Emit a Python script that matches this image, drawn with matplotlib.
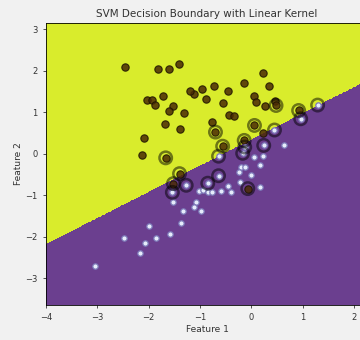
import numpy as np
import matplotlib.pyplot as plt
from matplotlib.colors import ListedColormap

# class 0 points (upper region)
x0 = [-2.47, -1.81, -1.60, -1.42, 0.22, 0.34, -0.14, -0.45, -0.72, -0.96,
      -1.11, -1.19, -0.88, -0.56, 0.06, 0.08, 0.27, 0.46, 0.48, 0.92,
      -2.03, -1.93, -1.87, -1.73, -1.53, -1.60, -1.32, -0.43, -0.33, -1.68,
      -1.40, -0.77, -0.70, 0.06, 0.22, -2.10, -2.13, -1.67, -0.56, -0.14,
      -1.40, -1.52, -0.07]
y0 = [2.09, 2.03, 2.03, 2.16, 1.94, 1.62, 1.69, 1.51, 1.63, 1.56,
      1.43, 1.52, 1.31, 1.22, 1.40, 1.24, 1.14, 1.27, 1.16, 1.04,
      1.30, 1.30, 1.16, 1.38, 1.14, 1.03, 0.98, 0.92, 0.90, 0.72,
      0.60, 0.76, 0.52, 0.68, 0.50, 0.38, -0.02, -0.10, 0.18, 0.32,
      -0.48, -0.72, -0.84]

# class 1 points (lower region)
x1 = [1.29, 0.96, 0.45, -0.64, -0.13, 0.24, 0.63, -0.17, 0.06, 0.22,
      0.16, -0.20, -0.12, -0.25, 0.00, -0.64, -1.27, -0.85, -0.46, -0.23,
      0.16, -1.54, -1.03, -0.94, -0.85, -0.77, -0.59, -0.39, -1.52, -1.08,
      -1.11, -1.34, -0.99, -1.37, -1.99, -1.58, -2.49, -2.08, -1.86, -2.18,
      -3.04]
y1 = [1.17, 0.84, 0.57, -0.06, 0.16, 0.20, 0.20, 0.01, -0.08, -0.05,
      -0.28, -0.32, -0.32, -0.43, -0.52, -0.53, -0.76, -0.71, -0.78, -0.68,
      -0.80, -0.93, -0.89, -0.88, -0.93, -0.93, -0.90, -0.93, -1.16, -1.16,
      -1.29, -1.39, -1.39, -1.66, -1.75, -1.93, -2.04, -2.16, -2.04, -2.39,
      -2.70]

# support vectors
sv_x = [0.48, 0.92, -0.70, 0.06, -1.67, -0.56, -0.14, -1.40, -1.52, -0.07,
        1.29, 0.96, 0.45, -0.64, -0.13, 0.24, -0.17, -0.64, -1.27, -0.85, -1.54]
sv_y = [1.16, 1.04, 0.52, 0.68, -0.10, 0.18, 0.32, -0.48, -0.72, -0.84,
        1.17, 0.84, 0.57, -0.06, 0.16, 0.20, 0.01, -0.53, -0.76, -0.71, -0.93]

# linear decision function: w . x + b
w = [-0.63, 1.0]
b = -0.36

fig = plt.figure(figsize=(3.6, 3.4), dpi=100, facecolor="#f1f1f1")
ax = fig.add_axes([0.128, 0.103, 0.894, 0.830])

xx, yy = np.meshgrid(np.linspace(-4, 2.27, 400), np.linspace(-3.64, 3.15, 400))
Z = (w[0] * xx + w[1] * yy + b > 0).astype(int)
ax.contourf(xx, yy, Z, levels=[-0.5, 0.5, 1.5],
            cmap=ListedColormap(["#6b3f8f", "#d9ec2c"]))

ax.scatter(x0, y0, s=28, c="#4a2a05", alpha=0.85, edgecolors="#1e1400", linewidths=0.8, zorder=3)
ax.scatter(x1, y1, s=15, c="#e6ecfb", edgecolors="#7c78b8", linewidths=0.9, zorder=3)
ax.scatter(sv_x, sv_y, s=80, facecolors="none", edgecolors="k", alpha=0.5, linewidths=1.8, zorder=4)

ax.set_xlim(-4, 2.27)
ax.set_ylim(-3.64, 3.15)
ax.set_xticks(range(-4, 3))
ax.set_yticks(range(-3, 4))
ax.tick_params(labelsize=6, length=2.5, width=0.6, colors="#333333")
for s in ax.spines.values():
    s.set_linewidth(0.6)
ax.set_xlabel("Feature 1", fontsize=6.5, color="#333333", labelpad=2)
ax.set_ylabel("Feature 2", fontsize=6.5, color="#333333", labelpad=2)
ax.set_title("SVM Decision Boundary with Linear Kernel", fontsize=7.5, color="#333333", pad=4)

fig.savefig("out.png", dpi=100, facecolor=fig.get_facecolor())
